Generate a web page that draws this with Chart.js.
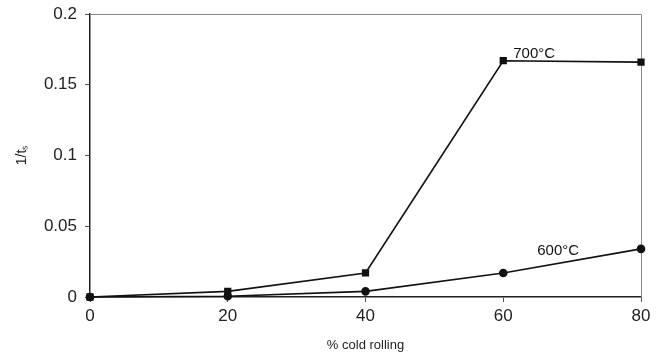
<!DOCTYPE html>
<html>
<head>
<meta charset="utf-8">
<script src="https://cdn.jsdelivr.net/npm/chart.js@4/dist/chart.umd.min.js"></script>
<style>
  html, body { margin: 0; padding: 0; background: #fff; }
  #wrap { width: 664px; height: 357px; }
</style>
</head>
<body>
<div id="wrap"><canvas id="chart"></canvas></div>
<script>
// data
var coldRolling = [0, 20, 40, 60, 80];
var rate700 = [0, 0.004, 0.017, 0.167, 0.166];
var rate600 = [0, 0.0005, 0.004, 0.017, 0.034];
var yTicks = [0, 0.05, 0.1, 0.15, 0.2];
var seriesLabels = ["700\u00B0C", "600\u00B0C"];

function pts(ys) {
    return coldRolling.map(function (x, i) { return { x: x, y: ys[i] }; });
}

// frame top/right in gray + series labels near their lines
var extras = {
    id: 'extras',
    beforeDatasetsDraw: function (chart) {
        var ctx = chart.ctx, a = chart.chartArea;
        ctx.save();
        ctx.strokeStyle = '#888';
        ctx.lineWidth = 1;
        ctx.beginPath();
        ctx.moveTo(a.left, a.top + 0.5);
        ctx.lineTo(a.right + 0.5, a.top + 0.5);
        ctx.lineTo(a.right + 0.5, a.bottom);
        ctx.stroke();
        ctx.restore();
    },
    afterDraw: function (chart) {
        var ctx = chart.ctx;
        var xs = chart.scales.x, ys = chart.scales.y;
        ctx.save();
        ctx.fillStyle = '#111';
        ctx.font = '15px "Liberation Sans", Arial, sans-serif';
        ctx.textBaseline = 'alphabetic';
        ctx.textAlign = 'left';
        ctx.fillText(seriesLabels[0], xs.getPixelForValue(60) + 10, ys.getPixelForValue(rate700[3]) - 3);
        ctx.textBaseline = 'middle';
        ctx.fillText(seriesLabels[1], xs.getPixelForValue(60) + 34, ys.getPixelForValue(rate600[4]) + 2);
        ctx.restore();
    }
};

new Chart(document.getElementById('chart'), {
    type: 'scatter',
    data: {
        datasets: [{
            label: seriesLabels[0],
            data: pts(rate700),
            showLine: true,
            clip: false,
            borderColor: '#111',
            backgroundColor: '#111',
            borderWidth: 1.6,
            pointStyle: 'rect',
            pointRadius: 4,
            pointHoverRadius: 4
        }, {
            label: seriesLabels[1],
            data: pts(rate600),
            showLine: true,
            clip: false,
            borderColor: '#111',
            backgroundColor: '#111',
            borderWidth: 1.6,
            pointStyle: 'circle',
            pointRadius: 3.5,
            pointHoverRadius: 3.5
        }]
    },
    options: {
        responsive: true,
        maintainAspectRatio: false,
        animation: false,
        layout: { padding: { top: 14, right: 23, left: 0, bottom: 0 } },
        plugins: {
            legend: { display: false },
            tooltip: { enabled: false }
        },
        scales: {
            x: {
                type: 'linear',
                min: 0,
                max: 80,
                afterBuildTicks: function (s) { s.ticks = coldRolling.map(function (v) { return { value: v }; }); },
                afterFit: function (s) { s.height = 60; s.paddingLeft = 0; s.paddingRight = 0; },
                grid: { display: true, drawOnChartArea: false, drawTicks: true, tickLength: 5, color: '#555' },
                border: { color: '#222', width: 1.5 },
                ticks: { color: '#222', font: { size: 17, family: '"Liberation Sans", Arial, sans-serif' }, padding: 4 },
                title: { display: true, text: '% cold rolling', color: '#222', font: { size: 13, family: '"Liberation Sans", Arial, sans-serif' }, padding: { top: 0 } }
            },
            y: {
                min: 0,
                max: 0.2,
                afterBuildTicks: function (s) { s.ticks = yTicks.map(function (v) { return { value: v }; }); },
                afterFit: function (s) { s.width = 90; s.paddingTop = 0; s.paddingBottom = 0; },
                grid: { display: true, drawOnChartArea: false, drawTicks: true, tickLength: 5, color: '#555' },
                border: { color: '#222', width: 1.5 },
                ticks: { color: '#222', font: { size: 17, family: '"Liberation Sans", Arial, sans-serif' }, padding: 8,
                    callback: function (v) { return String(v); } },
                title: { display: true, text: '1/t\u209B', color: '#222', font: { size: 14, family: '"Liberation Sans", Arial, sans-serif' }, padding: { top: 14, bottom: 0 } }
            }
        }
    },
    plugins: [extras]
});
</script>
</body>
</html>
